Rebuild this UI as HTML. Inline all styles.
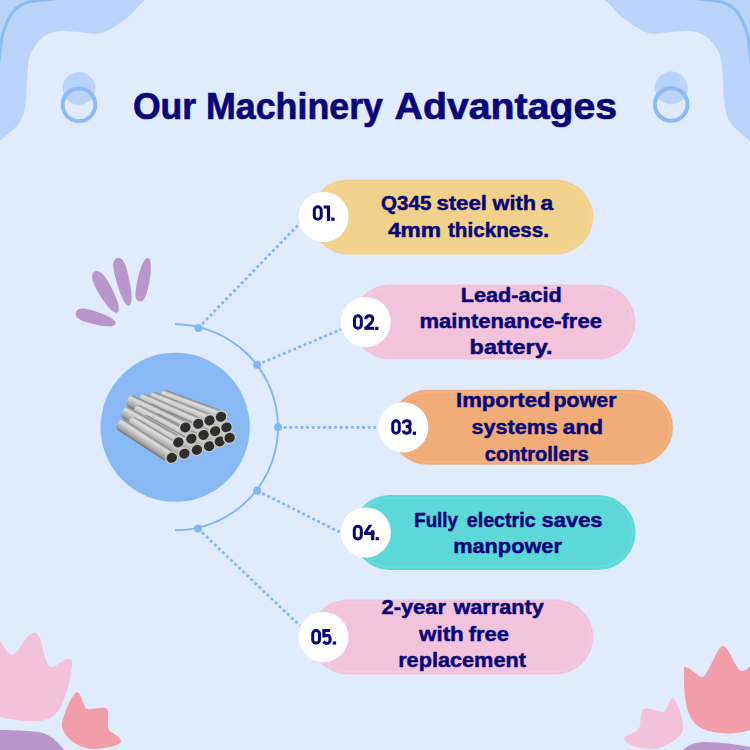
<!DOCTYPE html>
<html><head><meta charset="utf-8"><style>
html,body{margin:0;padding:0;width:750px;height:750px;overflow:hidden;background:#e0ecfd;}
svg{position:absolute;left:0;top:0;display:block;}
text{font-family:"Liberation Sans",sans-serif;font-weight:bold;fill:#0a0678;stroke:#0a0678;stroke-linejoin:round;}
</style></head><body>
<svg width="750" height="750" viewBox="0 0 750 750">
<defs>
<linearGradient id="pg" x1="0" y1="0" x2="0" y2="1">
<stop offset="0" stop-color="#808080"/><stop offset="0.22" stop-color="#dedede"/><stop offset="0.5" stop-color="#c2c2c2"/><stop offset="0.8" stop-color="#a0a0a0"/><stop offset="1" stop-color="#707070"/>
</linearGradient>
</defs>
<rect width="750" height="750" fill="#e0ecfd"/>
<path d="M160.00,-5.00 C157.50,-4.17 150.33,-3.67 145.00,0.00 C139.67,3.67 135.17,11.50 128.00,17.00 C120.83,22.50 110.00,30.50 102.00,33.00 C94.00,35.50 86.83,32.33 80.00,32.00 C73.17,31.67 66.67,30.50 61.00,31.00 C55.33,31.50 50.33,32.50 46.00,35.00 C41.67,37.50 37.83,42.00 35.00,46.00 C32.17,50.00 30.33,53.33 29.00,59.00 C27.67,64.67 27.57,72.83 27.00,80.00 C26.43,87.17 26.77,95.00 25.60,102.00 C24.43,109.00 24.27,115.50 20.00,122.00 C15.73,128.50 5.00,136.33 0.00,141.00 C-5.00,145.67 -8.33,148.50 -10.00,150.00  L-10,-10 Z" fill="#bad3fa"/>
<path d="M70.00,-3.00 C65.33,-2.50 49.22,-0.92 42.00,0.00 C34.78,0.92 31.03,1.08 26.70,2.50 C22.37,3.92 18.85,6.08 16.00,8.50 C13.15,10.92 11.43,13.92 9.60,17.00 C7.77,20.08 6.30,23.42 5.00,27.00 C3.70,30.58 2.63,34.33 1.80,38.50 C0.97,42.67 0.63,47.08 0.00,52.00 C-0.63,56.92 -1.67,65.33 -2.00,68.00 " fill="none" stroke="#8dbbf4" stroke-width="3.1"/>
<g transform="translate(750 0) scale(-1 1)">
<path d="M160.00,-5.00 C157.50,-4.17 150.33,-3.67 145.00,0.00 C139.67,3.67 135.17,11.50 128.00,17.00 C120.83,22.50 110.00,30.50 102.00,33.00 C94.00,35.50 86.83,32.33 80.00,32.00 C73.17,31.67 66.67,30.50 61.00,31.00 C55.33,31.50 50.33,32.50 46.00,35.00 C41.67,37.50 37.83,42.00 35.00,46.00 C32.17,50.00 30.33,53.33 29.00,59.00 C27.67,64.67 27.57,72.83 27.00,80.00 C26.43,87.17 26.77,95.00 25.60,102.00 C24.43,109.00 24.27,115.50 20.00,122.00 C15.73,128.50 5.00,136.33 0.00,141.00 C-5.00,145.67 -8.33,148.50 -10.00,150.00  L-10,-10 Z" fill="#bad3fa"/>
<path d="M70.00,-3.00 C65.33,-2.50 49.22,-0.92 42.00,0.00 C34.78,0.92 31.03,1.08 26.70,2.50 C22.37,3.92 18.85,6.08 16.00,8.50 C13.15,10.92 11.43,13.92 9.60,17.00 C7.77,20.08 6.30,23.42 5.00,27.00 C3.70,30.58 2.63,34.33 1.80,38.50 C0.97,42.67 0.63,47.08 0.00,52.00 C-0.63,56.92 -1.67,65.33 -2.00,68.00 " fill="none" stroke="#8dbbf4" stroke-width="3.1"/>
</g>
<circle cx="79" cy="88.3" r="16.4" fill="#bad3fa"/>
<circle cx="79" cy="104.8" r="16.3" fill="none" stroke="#8dbbf4" stroke-width="4"/>
<circle cx="671.2" cy="88" r="16.4" fill="#bad3fa"/>
<circle cx="671.2" cy="104.5" r="16.3" fill="none" stroke="#8dbbf4" stroke-width="4"/>
<path transform="translate(76 312.4) rotate(16.06)" d="M0,0 C0,-4.42 4.75,-6.50 14.83,-6.50 C30.66,-6.50 41.21,-3.90 41.21,0 C41.21,3.90 30.66,6.50 14.83,6.50 C4.75,6.50 0,4.42 0,0Z" fill="#b996cb"/>
<path transform="translate(94.6 271.6) rotate(60.80)" d="M0,0 C0,-4.76 5.68,-7.00 17.76,-7.00 C35.15,-7.00 46.74,-4.20 46.74,0 C46.74,4.20 35.15,7.00 17.76,7.00 C5.68,7.00 0,4.76 0,0Z" fill="#b996cb"/>
<path transform="translate(117.3 257.9) rotate(76.11)" d="M0,0 C0,-4.68 4.95,-6.50 17.69,-6.50 C36.56,-6.50 49.14,-3.90 49.14,0 C49.14,3.90 36.56,6.50 17.69,6.50 C4.95,6.50 0,4.68 0,0Z" fill="#b996cb"/>
<path transform="translate(148.1 257.9) rotate(101.49)" d="M0,0 C0,-3.31 10.88,-6.00 24.30,-6.00 C39.21,-6.00 44.19,-4.50 44.19,0 C44.19,4.50 39.21,6.00 24.30,6.00 C10.88,6.00 0,3.31 0,0Z" fill="#b996cb"/>
<path d="M0,641 C5,648 9,655 12.5,655 C17,655 27,634 32,633 C36,632 39,634 40,638 C43,648 46,667 51,667 C56,667 63,659 69,659 C72,659 72.5,662 72,666 C70,682 66,696 61,706 C57,714 52,719 40,721 C28,722 14,720 0,717 Z" fill="#f2c2da"/>
<path d="M0,730 C15,730 35,731 43,733 C52,736 60,744 64,750 L0,750 Z" fill="#b996cb"/>
<path d="M77,692 C81,692 84,708 87,709 C92,710 104,706 107,709 C110,713 106,728 110,731 C114,734 121,737 121,741 C121,746 102,749 93,749 C80,749 64,738 62,727 C61,718 73,692 77,692 Z" fill="#f29ea9"/>
<path d="M684,667 C690,666 698,677 702,677 C708,677 717,646 723,646 C729,646 736,671 742,671 C746,671 750,666 750,666 L750,730 C742,733 730,734 720,733 C700,731 694,724 690,716 C685,706 684,690 684,677 Z" fill="#f29ea9"/>
<path d="M683,750 C688,745 695,742 705,742 C720,742 740,745 750,747 L750,750 Z" fill="#b996cb"/>
<path d="M672.5,698 C669,698 667,712 663,712 C658,712 648,707 644,709 C639,712 642,727 638,730 C634,734 624,735 624,739 C624,744 641,749 650,749 C665,749 682,738 683,729 C684,718 676,698 672.5,698 Z" fill="#f2c2da"/>
<path d="M175,324.3 A103,103 0 0 1 175,530.3" fill="none" stroke="#82b5f3" stroke-width="1.9"/>
<line x1="198.3" y1="328" x2="301" y2="222" stroke="#84b6f3" stroke-width="2.7" stroke-dasharray="2.9 2.7"/>
<line x1="257.2" y1="364.8" x2="341" y2="329.4" stroke="#84b6f3" stroke-width="2.7" stroke-dasharray="2.9 2.7"/>
<line x1="278.1" y1="427.3" x2="379" y2="427.3" stroke="#84b6f3" stroke-width="2.7" stroke-dasharray="2.9 2.7"/>
<line x1="257.3" y1="490.7" x2="342" y2="533.3" stroke="#84b6f3" stroke-width="2.7" stroke-dasharray="2.9 2.7"/>
<line x1="198" y1="528.6" x2="300" y2="625.8" stroke="#84b6f3" stroke-width="2.7" stroke-dasharray="2.9 2.7"/>
<circle cx="198.3" cy="328" r="4" fill="#84b6f3"/>
<circle cx="257.2" cy="364.8" r="4" fill="#84b6f3"/>
<circle cx="278.1" cy="427.3" r="4" fill="#84b6f3"/>
<circle cx="257.3" cy="490.7" r="4" fill="#84b6f3"/>
<circle cx="198" cy="528.6" r="4" fill="#84b6f3"/>
<circle cx="175.15" cy="427.25" r="74.6" fill="#89b9f5"/>
<g transform="translate(220.7 416.7) rotate(20.0)"><rect x="-64" y="-6.3" width="64" height="12.6" rx="5" fill="url(#pg)"/></g>
<g transform="translate(226.2 427.4) rotate(21.5)"><rect x="-64" y="-6.3" width="64" height="12.6" rx="5" fill="url(#pg)"/></g>
<g transform="translate(209.3 420.4) rotate(21.9)"><rect x="-64" y="-6.3" width="64" height="12.6" rx="5" fill="url(#pg)"/></g>
<g transform="translate(229.4 437.7) rotate(23.1)"><rect x="-64" y="-6.3" width="64" height="12.6" rx="5" fill="url(#pg)"/></g>
<g transform="translate(214.9 431.1) rotate(23.4)"><rect x="-64" y="-6.3" width="64" height="12.6" rx="5" fill="url(#pg)"/></g>
<g transform="translate(198.1 423.7) rotate(23.7)"><rect x="-64" y="-6.3" width="64" height="12.6" rx="5" fill="url(#pg)"/></g>
<g transform="translate(219.6 441.4) rotate(24.8)"><rect x="-64" y="-6.3" width="64" height="12.6" rx="5" fill="url(#pg)"/></g>
<g transform="translate(203.3 434.9) rotate(25.3)"><rect x="-64" y="-6.3" width="64" height="12.6" rx="5" fill="url(#pg)"/></g>
<g transform="translate(185.1 427.4) rotate(25.8)"><rect x="-64" y="-6.3" width="64" height="12.6" rx="5" fill="url(#pg)"/></g>
<g transform="translate(208.9 446.1) rotate(26.8)"><rect x="-64" y="-6.3" width="64" height="12.6" rx="5" fill="url(#pg)"/></g>
<g transform="translate(191.1 438.6) rotate(27.3)"><rect x="-64" y="-6.3" width="64" height="12.6" rx="5" fill="url(#pg)"/></g>
<g transform="translate(196.7 449.8) rotate(28.8)"><rect x="-64" y="-6.3" width="64" height="12.6" rx="5" fill="url(#pg)"/></g>
<g transform="translate(178.1 442.3) rotate(29.4)"><rect x="-64" y="-6.3" width="64" height="12.6" rx="5" fill="url(#pg)"/></g>
<g transform="translate(184.1 453.6) rotate(30.9)"><rect x="-64" y="-6.3" width="64" height="12.6" rx="5" fill="url(#pg)"/></g>
<g transform="translate(171.5 457.7) rotate(33.0)"><rect x="-64" y="-6.3" width="64" height="12.6" rx="5" fill="url(#pg)"/></g>
<g transform="translate(185.1 427.4) rotate(-30)"><ellipse rx="6.7" ry="6.3" fill="#c8c8c6"/><ellipse cx="0.2" cy="0.2" rx="5.3" ry="4.9" fill="#2e2e2c"/></g>
<g transform="translate(198.1 423.7) rotate(-30)"><ellipse rx="6.7" ry="6.3" fill="#c8c8c6"/><ellipse cx="0.2" cy="0.2" rx="5.3" ry="4.9" fill="#2e2e2c"/></g>
<g transform="translate(209.3 420.4) rotate(-30)"><ellipse rx="6.7" ry="6.3" fill="#c8c8c6"/><ellipse cx="0.2" cy="0.2" rx="5.3" ry="4.9" fill="#2e2e2c"/></g>
<g transform="translate(220.7 416.7) rotate(-30)"><ellipse rx="6.7" ry="6.3" fill="#c8c8c6"/><ellipse cx="0.2" cy="0.2" rx="5.3" ry="4.9" fill="#2e2e2c"/></g>
<g transform="translate(178.1 442.3) rotate(-30)"><ellipse rx="6.7" ry="6.3" fill="#c8c8c6"/><ellipse cx="0.2" cy="0.2" rx="5.3" ry="4.9" fill="#2e2e2c"/></g>
<g transform="translate(191.1 438.6) rotate(-30)"><ellipse rx="6.7" ry="6.3" fill="#c8c8c6"/><ellipse cx="0.2" cy="0.2" rx="5.3" ry="4.9" fill="#2e2e2c"/></g>
<g transform="translate(203.3 434.9) rotate(-30)"><ellipse rx="6.7" ry="6.3" fill="#c8c8c6"/><ellipse cx="0.2" cy="0.2" rx="5.3" ry="4.9" fill="#2e2e2c"/></g>
<g transform="translate(214.9 431.1) rotate(-30)"><ellipse rx="6.7" ry="6.3" fill="#c8c8c6"/><ellipse cx="0.2" cy="0.2" rx="5.3" ry="4.9" fill="#2e2e2c"/></g>
<g transform="translate(226.2 427.4) rotate(-30)"><ellipse rx="6.7" ry="6.3" fill="#c8c8c6"/><ellipse cx="0.2" cy="0.2" rx="5.3" ry="4.9" fill="#2e2e2c"/></g>
<g transform="translate(171.5 457.7) rotate(-30)"><ellipse rx="6.7" ry="6.3" fill="#c8c8c6"/><ellipse cx="0.2" cy="0.2" rx="5.3" ry="4.9" fill="#2e2e2c"/></g>
<g transform="translate(184.1 453.6) rotate(-30)"><ellipse rx="6.7" ry="6.3" fill="#c8c8c6"/><ellipse cx="0.2" cy="0.2" rx="5.3" ry="4.9" fill="#2e2e2c"/></g>
<g transform="translate(196.7 449.8) rotate(-30)"><ellipse rx="6.7" ry="6.3" fill="#c8c8c6"/><ellipse cx="0.2" cy="0.2" rx="5.3" ry="4.9" fill="#2e2e2c"/></g>
<g transform="translate(208.9 446.1) rotate(-30)"><ellipse rx="6.7" ry="6.3" fill="#c8c8c6"/><ellipse cx="0.2" cy="0.2" rx="5.3" ry="4.9" fill="#2e2e2c"/></g>
<g transform="translate(219.6 441.4) rotate(-30)"><ellipse rx="6.7" ry="6.3" fill="#c8c8c6"/><ellipse cx="0.2" cy="0.2" rx="5.3" ry="4.9" fill="#2e2e2c"/></g>
<g transform="translate(229.4 437.7) rotate(-30)"><ellipse rx="6.7" ry="6.3" fill="#c8c8c6"/><ellipse cx="0.2" cy="0.2" rx="5.3" ry="4.9" fill="#2e2e2c"/></g>
<rect x="310.3" y="179.5" width="283" height="75" rx="37.5" fill="#f0d28c"/>
<rect x="313.3" y="182.5" width="277" height="69" rx="34.5" fill="none" stroke="#ffffff" stroke-opacity="0.13" stroke-width="1"/>
<rect x="352.4" y="284.5" width="283" height="75" rx="37.5" fill="#f2c4dc"/>
<rect x="355.4" y="287.5" width="277" height="69" rx="34.5" fill="none" stroke="#ffffff" stroke-opacity="0.13" stroke-width="1"/>
<rect x="390.0" y="389.8" width="283" height="75" rx="37.5" fill="#f0ad7a"/>
<rect x="393.0" y="392.8" width="277" height="69" rx="34.5" fill="none" stroke="#ffffff" stroke-opacity="0.13" stroke-width="1"/>
<rect x="352.5" y="495.0" width="283" height="75" rx="37.5" fill="#5dd8d8"/>
<rect x="355.5" y="498.0" width="277" height="69" rx="34.5" fill="none" stroke="#ffffff" stroke-opacity="0.13" stroke-width="1"/>
<rect x="310.2" y="599.5" width="283" height="75" rx="37.5" fill="#f2c4dc"/>
<rect x="313.2" y="602.5" width="277" height="69" rx="34.5" fill="none" stroke="#ffffff" stroke-opacity="0.13" stroke-width="1"/>
<circle cx="323.6" cy="217" r="25.1" fill="#fff"/>
<circle cx="365.7" cy="322" r="25.1" fill="#fff"/>
<circle cx="403.3" cy="427.3" r="25.1" fill="#fff"/>
<circle cx="365.8" cy="532.5" r="25.1" fill="#fff"/>
<circle cx="323.5" cy="637" r="25.1" fill="#fff"/>
<text class="t" transform="translate(381.12 210.00) scale(0.9776 1)" font-size="21" stroke-width="0.5">Q345</text>
<text class="t" transform="translate(436.39 210.00) scale(1.0568 1)" font-size="21" stroke-width="0.5">steel</text>
<text class="t" transform="translate(492.61 210.00) scale(1.0354 1)" font-size="21" stroke-width="0.5">with</text>
<text class="t" transform="translate(540.49 210.00) scale(1.0871 1)" font-size="21" stroke-width="0.5">a</text>
<text class="t" transform="translate(387.93 237.00) scale(1.0854 1)" font-size="21" stroke-width="0.5">4mm</text>
<text class="t" transform="translate(447.99 237.00) scale(0.9832 1)" font-size="21" stroke-width="0.5">thickness.</text>
<text class="t" transform="translate(460.80 301.90) scale(1.0310 1)" font-size="21" stroke-width="0.5">Lead-acid</text>
<text class="t" transform="translate(419.53 328.30) scale(1.0491 1)" font-size="21" stroke-width="0.5">maintenance-free</text>
<text class="t" transform="translate(469.55 353.90) scale(1.1180 1)" font-size="21" stroke-width="0.5">battery.</text>
<text class="t" transform="translate(456.07 407.40) scale(1.0509 1)" font-size="21" stroke-width="0.5">Imported</text>
<text class="t" transform="translate(553.56 407.40) scale(1.0187 1)" font-size="21" stroke-width="0.5">power</text>
<text class="t" transform="translate(471.50 434.40) scale(1.0280 1)" font-size="21" stroke-width="0.5">systems</text>
<text class="t" transform="translate(562.79 434.40) scale(1.0800 1)" font-size="21" stroke-width="0.5">and</text>
<text class="t" transform="translate(484.74 460.60) scale(0.9568 1)" font-size="21" stroke-width="0.5">controllers</text>
<text class="t" transform="translate(414.26 526.80) scale(0.8903 1)" font-size="21" stroke-width="0.5">Fully</text>
<text class="t" transform="translate(466.75 526.80) scale(0.9362 1)" font-size="21" stroke-width="0.5">electric</text>
<text class="t" transform="translate(541.49 526.80) scale(1.0470 1)" font-size="21" stroke-width="0.5">saves</text>
<text class="t" transform="translate(453.14 552.90) scale(1.0359 1)" font-size="21" stroke-width="0.5">manpower</text>
<text class="t" transform="translate(381.49 614.30) scale(1.0432 1)" font-size="21" stroke-width="0.5">2-year</text>
<text class="t" transform="translate(453.51 614.30) scale(1.0311 1)" font-size="21" stroke-width="0.5">warranty</text>
<text class="t" transform="translate(419.02 640.80) scale(1.0669 1)" font-size="21" stroke-width="0.5">with</text>
<text class="t" transform="translate(468.68 640.80) scale(1.0440 1)" font-size="21" stroke-width="0.5">free</text>
<text class="t" transform="translate(398.15 667.30) scale(1.0333 1)" font-size="21" stroke-width="0.5">replacement</text>
<text class="t" transform="translate(132.91 118.90) scale(0.9496 1)" font-size="37.5" stroke-width="0.7">Our</text>
<text class="t" transform="translate(205.92 118.90) scale(0.9552 1)" font-size="37.5" stroke-width="0.7">Machinery</text>
<text class="t" transform="translate(394.58 118.90) scale(1.0475 1)" font-size="37.5" stroke-width="0.7">Advantages</text>
<g transform="translate(312.8 205.2)"><rect x="1.5" y="1.5" width="6.9" height="12.6" rx="3.4" fill="none" stroke="#0a0678" stroke-width="3"/></g>
<g transform="translate(323.7 205.4)"><path d="M0,0 H6.4 V15.6 H3.2 V3 H0 Z" fill="#0a0678"/></g>
<rect x="331.2" y="217.6" width="3.4" height="3.2" fill="#0a0678"/>
<g transform="translate(353 314.2)"><rect x="1.5" y="1.5" width="6.8" height="12.6" rx="3.4" fill="none" stroke="#0a0678" stroke-width="3"/></g>
<g transform="translate(364.3 314.2)"><path d="M1.5,5 C1.5,2.7 3,1.5 5,1.5 C7.1,1.5 8.5,2.7 8.5,4.9 C8.5,6.4 7.9,7.4 6.9,8.6 L1.2,14.3" fill="none" stroke="#0a0678" stroke-width="3"/><rect x="0" y="12.6" width="10" height="3" fill="#0a0678"/></g>
<rect x="375.2" y="326.8" width="3.2" height="3.2" fill="#0a0678"/>
<g transform="translate(391.2 419.2)"><rect x="1.5" y="1.5" width="6.6" height="12.6" rx="3.4" fill="none" stroke="#0a0678" stroke-width="3"/></g>
<g transform="translate(402.1 419.2)"><path d="M1.3,4.4 C1.3,2.5 2.8,1.5 4.8,1.5 C6.9,1.5 8.1,2.6 8.1,4.4 C8.1,6.2 6.9,7.3 4.8,7.3 H3.6 M4.8,7.3 C7,7.3 8.1,8.6 8.1,10.8 C8.1,12.9 6.9,14.1 4.8,14.1 C2.7,14.1 1.3,13.2 1.3,11.2" fill="none" stroke="#0a0678" stroke-width="3"/></g>
<rect x="412.7" y="431.6" width="3.3" height="3.2" fill="#0a0678"/>
<g transform="translate(352.8 524.8)"><rect x="1.5" y="1.5" width="7.0" height="12.6" rx="3.4" fill="none" stroke="#0a0678" stroke-width="3"/></g>
<g transform="translate(364.1 524.8)"><path d="M4.7,0 H8.3 L3.6,6.9 H7 V5.4 H10.2 V6.9 H10.5 V10.1 H10.2 V15.4 H7 V10.1 H0 V7.2 Z" fill="#0a0678"/></g>
<rect x="375.6" y="537.1" width="3.2" height="3.2" fill="#0a0678"/>
<g transform="translate(311.2 629)"><rect x="1.5" y="1.5" width="6.8" height="12.6" rx="3.4" fill="none" stroke="#0a0678" stroke-width="3"/></g>
<g transform="translate(322.3 629)"><path d="M0,0 H7.7 V3 H3.2 V5.3 C3.8,5 4.4,4.8 5.2,4.8 C7.8,4.8 9.4,6.8 9.4,10.2 C9.4,13.6 7.6,15.8 4.7,15.8 C2.6,15.8 1,14.9 0,13.4 L2.4,11.6 C2.9,12.4 3.7,12.8 4.7,12.8 C5.8,12.8 6.3,11.8 6.3,10.2 C6.3,8.6 5.8,7.8 4.7,7.8 C3.9,7.8 3.3,8.2 3,8.6 H0 Z" fill="#0a0678"/></g>
<rect x="332.7" y="641.4" width="3.4" height="3.2" fill="#0a0678"/>
</svg>
</body></html>
